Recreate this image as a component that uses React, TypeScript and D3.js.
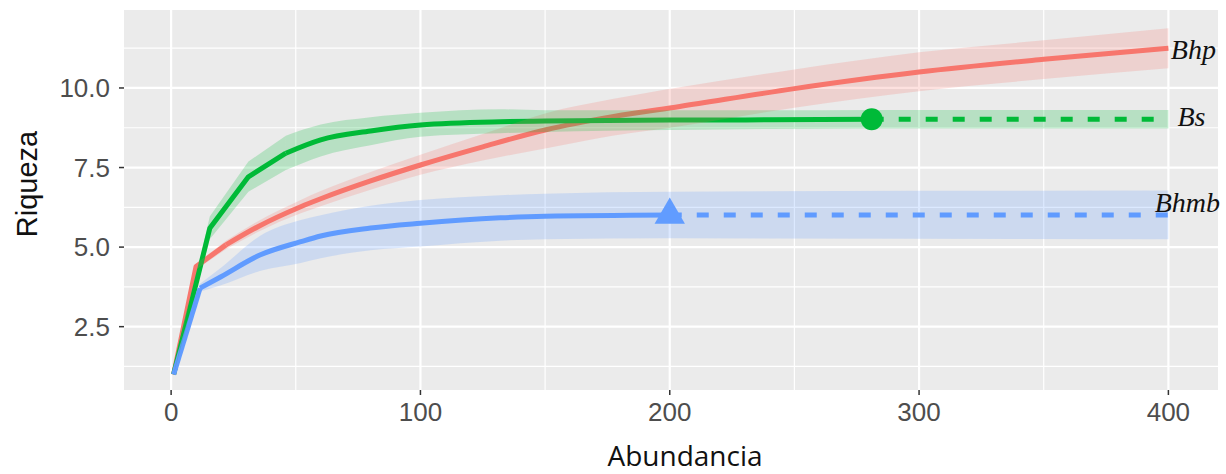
import React from "react";
import * as d3 from "d3";

// iNEXT-style rarefaction / extrapolation curves
const bhpX = [1, 10, 22, 35, 52, 60, 80, 100, 125, 150, 177, 204, 250, 300, 350, 400];
const bhpY = [1, 4.39, 5.07, 5.65, 6.27, 6.52, 7.08, 7.58, 8.15, 8.68, 9.1, 9.42, 9.98, 10.5, 10.9, 11.25];
const bhpLo = [1, 4.3, 4.93, 5.48, 6.06, 6.28, 6.8, 7.27, 7.72, 8.1, 8.5, 8.8, 9.38, 9.9, 10.28, 10.62];
const bhpHi = [1, 4.48, 5.2, 5.82, 6.48, 6.76, 7.36, 7.9, 8.55, 9.2, 9.65, 10.02, 10.58, 11.12, 11.5, 11.88];

const bsX = [1, 15.5, 31, 46, 60, 80, 100, 132, 150, 200, 240, 281];
const bsY = [1, 5.59, 7.21, 7.95, 8.37, 8.65, 8.84, 8.94, 8.96, 8.99, 9.0, 9.02];
const bsLo = [1, 5.25, 6.74, 7.42, 7.85, 8.2, 8.47, 8.58, 8.62, 8.68, 8.71, 8.73];
const bsHi = [1, 5.96, 7.69, 8.5, 8.85, 9.08, 9.22, 9.33, 9.3, 9.3, 9.3, 9.31];
const bsExtX = [281, 340, 400];
const bsExtY = [9.02, 9.02, 9.02];
const bsExtLo = [8.73, 8.73, 8.73];
const bsExtHi = [9.31, 9.31, 9.31];

const bhmbX = [1, 11.6, 20, 35.6, 52, 60, 80, 100, 132, 150, 200];
const bhmbY = [1, 3.71, 4.07, 4.75, 5.17, 5.35, 5.6, 5.75, 5.92, 5.97, 6.01];
const bhmbLo = [1, 3.6, 3.8, 4.25, 4.5, 4.65, 4.9, 5.02, 5.2, 5.25, 5.28];
const bhmbHi = [1, 3.85, 4.35, 5.35, 5.85, 6.0, 6.3, 6.48, 6.63, 6.68, 6.74];
const bhmbExtX = [200, 300, 400];
const bhmbExtY = [6.01, 6.01, 6.01];
const bhmbExtLo = [5.28, 5.26, 5.25];
const bhmbExtHi = [6.74, 6.77, 6.78];

const xTicks = [0, 100, 200, 300, 400];
const xMinor = [50, 150, 250, 350];
const yTicks = [2.5, 5, 7.5, 10];
const yMinor = [1.25, 3.75, 6.25, 8.75, 11.25];

const RED = "#F8766D";
const GREEN = "#00BA38";
const BLUE = "#619CFF";

const W = 1226;
const H = 474;
const panel = { left: 124, right: 1218, top: 10, bottom: 390 };

type Pt = { x: number; y: number; lo: number; hi: number };
const zip = (xs: number[], ys: number[], lo: number[], hi: number[]): Pt[] =>
  xs.map((x, i) => ({ x, y: ys[i], lo: lo[i], hi: hi[i] }));

export default function App() {
  const x = d3.scaleLinear().domain([-18.9, 419.9]).range([panel.left, panel.right]);
  const y = d3.scaleLinear().domain([0.51, 12.45]).range([panel.bottom, panel.top]);

  const mkLine = (curve: d3.CurveFactory) =>
    d3
      .line<Pt>()
      .x((d) => x(d.x))
      .y((d) => y(d.y))
      .curve(curve);
  const mkBand = (curve: d3.CurveFactory) =>
    d3
      .area<Pt>()
      .x((d) => x(d.x))
      .y0((d) => y(d.lo))
      .y1((d) => y(d.hi))
      .curve(curve);
  const lineLin = mkLine(d3.curveLinear);
  const lineSmooth = mkLine(d3.curveMonotoneX);
  const bandLin = mkBand(d3.curveLinear);
  const bandSmooth = mkBand(d3.curveMonotoneX);

  // kink = last index of the straight (coarse knot) start of each curve
  const series = [
    { name: "Bhp", color: RED, kink: 2, obs: zip(bhpX, bhpY, bhpLo, bhpHi), ext: [] as Pt[] },
    { name: "Bs", color: GREEN, kink: 3, obs: zip(bsX, bsY, bsLo, bsHi), ext: zip(bsExtX, bsExtY, bsExtLo, bsExtHi) },
    { name: "Bhmb", color: BLUE, kink: 1, obs: zip(bhmbX, bhmbY, bhmbLo, bhmbHi), ext: zip(bhmbExtX, bhmbExtY, bhmbExtLo, bhmbExtHi) },
  ];

  // hand-placed label nudges relative to the curve end
  const labelNudge: Record<string, [number, number]> = {
    Bhp: [25, 11],
    Bs: [23, 7],
    Bhmb: [19, -3],
  };

  const tri = d3.symbol().type(d3.symbolTriangle).size(400)();
  const tickFont = "'Liberation Sans', Arial, sans-serif";

  return (
    <svg width={W} height={H} style={{ position: "absolute", left: 0, top: 0, background: "#fff" }}>
      <rect
        x={panel.left}
        y={panel.top}
        width={panel.right - panel.left}
        height={panel.bottom - panel.top}
        fill="#EBEBEB"
      />
      {/* grid */}
      {yMinor.map((v) => (
        <line key={"ym" + v} x1={panel.left} x2={panel.right} y1={y(v)} y2={y(v)} stroke="#fff" strokeWidth={1.2} />
      ))}
      {xMinor.map((v) => (
        <line key={"xm" + v} x1={x(v)} x2={x(v)} y1={panel.top} y2={panel.bottom} stroke="#fff" strokeWidth={1.2} />
      ))}
      {yTicks.map((v) => (
        <line key={"yM" + v} x1={panel.left} x2={panel.right} y1={y(v)} y2={y(v)} stroke="#fff" strokeWidth={2.2} />
      ))}
      {xTicks.map((v) => (
        <line key={"xM" + v} x1={x(v)} x2={x(v)} y1={panel.top} y2={panel.bottom} stroke="#fff" strokeWidth={2.2} />
      ))}

      {/* lines: straight start, smooth remainder, dashed extrapolation */}
      {series.map((s) => {
        const head = s.obs.slice(0, s.kink + 1);
        const tail = s.obs.slice(s.kink);
        return (
          <g key={"l" + s.name} fill="none" stroke={s.color} strokeWidth={5}>
            <path d={lineLin(head) ?? ""} strokeLinejoin="round" />
            <path d={lineSmooth(tail) ?? ""} strokeLinejoin="round" />
            {s.ext.length > 0 && <path d={lineLin(s.ext) ?? ""} strokeDasharray="12,15" />}
          </g>
        );
      })}

      {/* confidence ribbons */}
      {series.map((s) => {
        const head = s.obs.slice(0, s.kink + 1);
        const tail = s.obs.slice(s.kink);
        return (
          <g key={"r" + s.name} fill={s.color} fillOpacity={0.22}>
            <path d={bandLin(head) ?? ""} />
            <path d={bandSmooth(tail) ?? ""} />
            {s.ext.length > 0 && <path d={bandLin(s.ext) ?? ""} />}
          </g>
        );
      })}

      {/* observed points */}
      <circle cx={x(bsX[bsX.length - 1])} cy={y(bsY[bsY.length - 1])} r={11} fill={GREEN} />
      <path
        d={tri ?? ""}
        transform={`translate(${x(bhmbX[bhmbX.length - 1])},${y(bhmbY[bhmbY.length - 1])})`}
        fill={BLUE}
      />

      {/* curve labels */}
      {series.map((s) => {
        const all = s.ext.length ? s.ext : s.obs;
        const last = all[all.length - 1];
        const [dx, dy] = labelNudge[s.name];
        return (
          <text
            key={"t" + s.name}
            x={x(last.x) + dx}
            y={y(last.y) + dy}
            textAnchor="middle"
            fontFamily="'Liberation Serif', 'Times New Roman', serif"
            fontStyle="italic"
            fontSize={28}
            fill="#111"
          >
            {s.name}
          </text>
        );
      })}

      {/* y axis */}
      {yTicks.map((v) => (
        <g key={"yt" + v}>
          <line x1={panel.left - 5} x2={panel.left} y1={y(v)} y2={y(v)} stroke="#333" strokeWidth={1.5} />
          <text
            x={110}
            y={y(v)}
            dy="0.36em"
            textAnchor="end"
            fontFamily={tickFont}
            fontSize={26}
            fill="#4D4D4D"
          >
            {d3.format(".1f")(v)}
          </text>
        </g>
      ))}
      {/* x axis */}
      {xTicks.map((v) => (
        <g key={"xt" + v}>
          <line x1={x(v)} x2={x(v)} y1={panel.bottom} y2={panel.bottom + 5} stroke="#333" strokeWidth={1.5} />
          <text x={x(v)} y={421} textAnchor="middle" fontFamily={tickFont} fontSize={26} fill="#4D4D4D">
            {v}
          </text>
        </g>
      ))}

      <text
        x={685}
        y={466}
        textAnchor="middle"
        fontFamily="'Open Sans', sans-serif"
        fontSize={28}
        fill="#111"
      >
        Abundancia
      </text>
      <text
        transform="translate(37,184) rotate(-90)"
        textAnchor="middle"
        fontFamily={tickFont}
        fontSize={29}
        fill="#111"
      >
        Riqueza
      </text>
    </svg>
  );
}
